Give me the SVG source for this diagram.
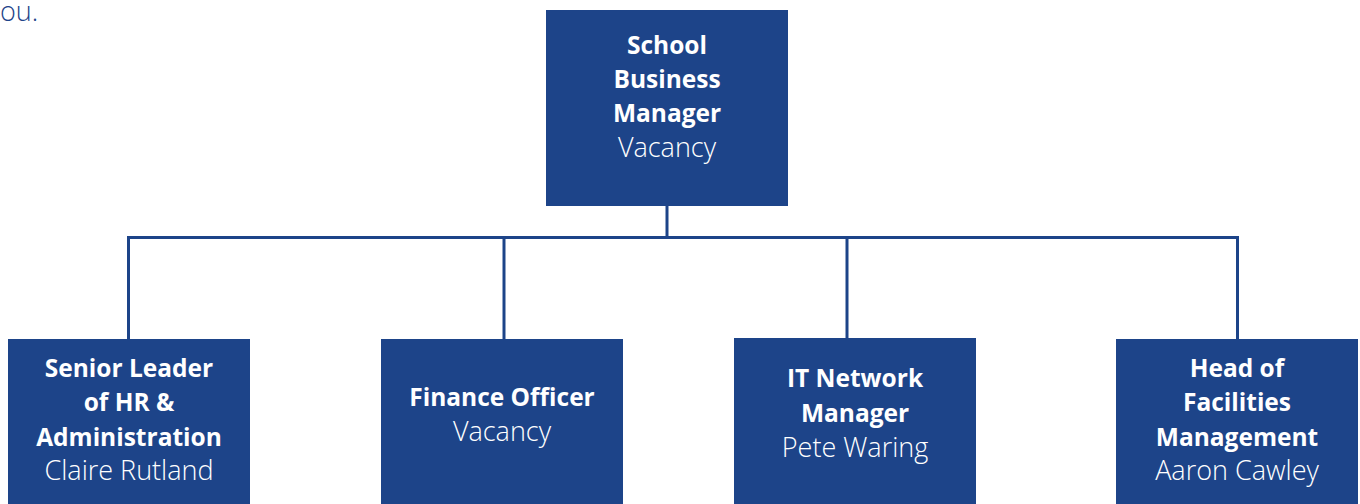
<svg xmlns="http://www.w3.org/2000/svg" width="1360" height="504" viewBox="0 0 1360 504">
<style>
.box{fill:#1d4489;}
.t{font-family:"Open Sans","Noto Sans","Liberation Sans",sans-serif;fill:#ffffff;text-anchor:middle;}
.b{font-size:24.5px;font-weight:700;}
.n{font-size:27px;font-weight:300;}
.c{fill:none;stroke:#1d4489;stroke-width:3;}
</style>
<rect width="1360" height="504" fill="#ffffff"/>
<text x="0" y="21" style="font-family:'Open Sans','Noto Sans',sans-serif;font-size:27px;font-weight:300;fill:#1d4489">ou.</text>
<g id="connectors">
<line class="c" x1="667" y1="206" x2="667" y2="238"/>
<line class="c" x1="127" y1="237.5" x2="1239" y2="237.5"/>
<line class="c" x1="128.5" y1="236" x2="128.5" y2="340"/>
<line class="c" x1="504" y1="236" x2="504" y2="340"/>
<line class="c" x1="847" y1="236" x2="847" y2="339"/>
<line class="c" x1="1237.5" y1="236" x2="1237.5" y2="340"/>
</g>
<g id="school-business-manager">
<rect class="box" x="546" y="10" width="242" height="196"/>
<text class="t b" x="667" y="53.5">School</text>
<text class="t b" x="667" y="88">Business</text>
<text class="t b" x="667" y="122">Manager</text>
<text class="t n" x="667" y="157">Vacancy</text>
</g>
<g id="senior-leader-hr">
<rect class="box" x="8" y="339" width="242" height="170"/>
<text class="t b" x="129" y="377">Senior Leader</text>
<text class="t b" x="129" y="411">of HR &amp;</text>
<text class="t b" x="129" y="446">Administration</text>
<text class="t n" x="129" y="480">Claire Rutland</text>
</g>
<g id="finance-officer">
<rect class="box" x="381" y="339" width="242" height="170"/>
<text class="t b" x="502" y="406">Finance Officer</text>
<text class="t n" x="502" y="441">Vacancy</text>
</g>
<g id="it-network-manager">
<rect class="box" x="734" y="338" width="242" height="170"/>
<text class="t b" x="855" y="387">IT Network</text>
<text class="t b" x="855" y="422">Manager</text>
<text class="t n" x="855" y="457">Pete Waring</text>
</g>
<g id="head-of-facilities">
<rect class="box" x="1116" y="339" width="242" height="170"/>
<text class="t b" x="1237" y="377">Head of</text>
<text class="t b" x="1237" y="411">Facilities</text>
<text class="t b" x="1237" y="446">Management</text>
<text class="t n" x="1237" y="480">Aaron Cawley</text>
</g>
</svg>
